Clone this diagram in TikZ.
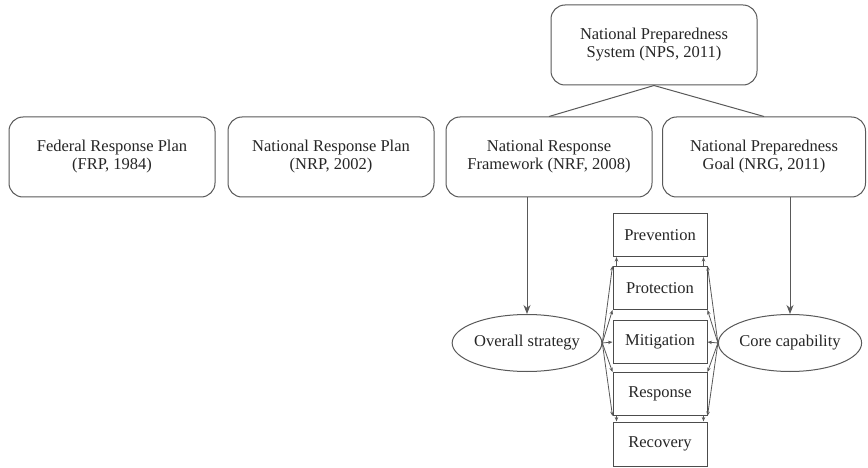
\documentclass[tikz,border=0pt]{standalone}
\usepackage{fontspec}
\setmainfont{Liberation Serif}
\usetikzlibrary{arrows.meta,shapes.geometric}
\begin{document}
\begin{tikzpicture}[x=1pt,y=-1pt,
  every node/.style={font=\rmfamily\fontsize{16.5}{18}\selectfont, text=black!85},
  plan/.style={draw=black!65, line width=1pt, rounded corners=14pt,
    minimum width=206pt, minimum height=80pt, align=center, inner sep=2pt},
  phase/.style={draw=black!70, line width=1pt, minimum width=94pt, minimum height=43pt, inner sep=0pt},
  aim/.style={ellipse, draw=black!65, line width=1pt, minimum width=137pt, minimum height=57pt, inner sep=0pt},
  link/.style={draw=black!65, line width=1pt},
  bigarrow/.style={link, -{Stealth[length=9pt,width=7pt]}},
  tinyarrow/.style={draw=black!65, line width=0.8pt, -{Stealth[length=4.5pt,width=3.5pt]}}
]
\useasboundingbox[fill=white] (0,0) rectangle (868,468);

% plans and frameworks
\node[plan] (nps) at (654,45) {National Preparedness\\System (NPS, 2011)};
\node[plan] (frp) at (112,157) {Federal Response Plan\\(FRP, 1984)};
\node[plan] (nrp) at (331,157) {National Response Plan\\(NRP, 2002)};
\node[plan] (nrf) at (549,157) {National Response\\Framework (NRF, 2008)};
\node[plan, minimum width=203pt] (nrg) at (764,157) {National Preparedness\\Goal (NRG, 2011)};

% mission areas
\node[phase] (prev) at (660,235) {Prevention};
\node[phase] (prot) at (660,288) {Protection};
\node[phase] (mit)  at (660,342) {Mitigation};
\node[phase] (resp) at (660,394) {Response};
\node[phase, minimum height=44pt] (rec) at (660,444) {Recovery};

% strategy and capability
\node[aim] (os) at (527,343) {Overall strategy};
\node[aim] (cc) at (790,343) {Core capability};

% hierarchy
\draw[link] (nps.south) -- (nrf.north);
\draw[link] (nps.south) -- (nrg.north);
\draw[bigarrow] (os.north |- nrf.south) -- (os.north);
\draw[bigarrow] (cc.north |- nrg.south) -- (cc.north);

% links from the overall strategy
\draw[tinyarrow] (os.east) -- (prot.north west);
\draw[tinyarrow] (os.east) -- (prot.south west);
\draw[tinyarrow] (os.east) -- (mit.west);
\draw[tinyarrow] (os.east) -- (resp.north west);
\draw[tinyarrow] (os.east) -- (resp.south west);

% links from the core capability
\draw[tinyarrow] (cc.west) -- (prot.north east);
\draw[tinyarrow] (cc.west) -- (prot.south east);
\draw[tinyarrow] (cc.west) -- (mit.east);
\draw[tinyarrow] (cc.west) -- (resp.north east);
\draw[tinyarrow] (cc.west) -- (resp.south east);

% links between neighbouring mission areas
\draw[tinyarrow] ([xshift=4pt]prot.north west) -- ([xshift=4pt]prev.south west);
\draw[tinyarrow] ([xshift=-4pt]prot.north east) -- ([xshift=-4pt]prev.south east);
\draw[tinyarrow] ([xshift=4pt]resp.south west) -- ([xshift=4pt]rec.north west);
\draw[tinyarrow] ([xshift=-4pt]resp.south east) -- ([xshift=-4pt]rec.north east);
\end{tikzpicture}
\end{document}
